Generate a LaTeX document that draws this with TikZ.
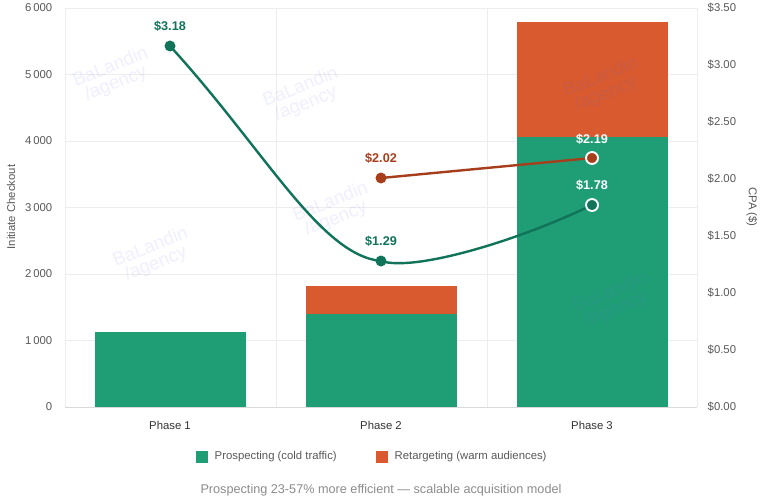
\documentclass[tikz,border=0pt]{standalone}
\usepackage{fontspec}
\setmainfont{Liberation Sans}
\begin{document}
\begin{tikzpicture}[x=0.75pt,y=-0.75pt,
  grid/.style={draw=black!7,line width=0.6pt},
  tick/.style={font=\fontsize{8.5}{10}\selectfont,text=black!65},
  gbar/.style={fill=green1,draw=none},
  obar/.style={fill=orange1,draw=none},
  wm/.style={text=blue!60!white,font=\fontsize{14}{13}\selectfont,rotate=22,opacity=0.1,inner sep=0pt},
  lbl/.style={font=\bfseries\fontsize{9.5}{11}\selectfont}]
\definecolor{green1}{HTML}{1F9E75}
\definecolor{orange1}{HTML}{D85A2E}
\definecolor{gline}{HTML}{10735A}
\definecolor{oline}{HTML}{A63E1C}
\useasboundingbox (0,0) rectangle (763,499);
\fill[white] (0,0) rectangle (763,499);
% grid
\foreach \v [count=\i] in {0,1000,2000,3000,4000,5000,6000}{
  \pgfmathsetmacro\yy{407-\v*0.0665}
  \draw[grid] (65,\yy) -- (697,\yy);
  \node[tick,anchor=east] (l\i) at (57,\yy) {\ifnum\v=0 0\else\pgfmathparse{int(\v/1000)}\pgfmathresult\,000\fi};
}
\foreach \t [count=\i] in {0.00,0.50,1.00,1.50,2.00,2.50,3.00,3.50}{
  \pgfmathsetmacro\yy{407-(\i-1)*57}
  \node[tick,anchor=west] (r\i) at (703,\yy) {\$\t};
}
\foreach \x in {65,276,487,697} \draw[grid] (\x,8) -- (\x,407);
% bars
\fill[gbar] (95,332) rectangle (246,407);
\fill[gbar] (306,314) rectangle (457,407);
\fill[obar] (306,286) rectangle (457,314);
\fill[gbar] (517,137) rectangle (668,407);
\fill[obar] (517,22) rectangle (668,137);
\draw[black!15] (65,407) -- (697,407);
% watermarks
\foreach \x/\y in {110/75,300/95,150/255,330/210,600/85,610/300}{
  \node[wm] (wa\x\y) at (\x,\y-9) {BaLandin};
  \node[wm] (wb\x\y) at (\x+6,\y+9) {/agency};
}
% categories
\node[tick,text=black!80] (c1) at (170,425) {Phase 1};
\node[tick,text=black!80] (c2) at (381,425) {Phase 2};
\node[tick,text=black!80] (c3) at (592,425) {Phase 3};
% axis titles
\node[tick,rotate=90] (yl) at (11,207) {Initiate Checkout};
\node[tick,rotate=-90] (yr) at (752,207) {CPA (\$)};
% lines
\coordinate (g1) at (170,46); \coordinate (g2) at (381,261); \coordinate (g3) at (592,205);
\coordinate (o2) at (381,178); \coordinate (o3) at (592,158);
\draw[gline,line width=1.8pt] (g1) .. controls (265,150) and (320,255) .. (g2) .. controls (415,272) and (520,240) .. (g3);
\draw[oline,line width=1.8pt] (o2) -- (o3);
\fill[gline] (g1) circle (5.5); \fill[gline] (g2) circle (5.5);
\draw[white,fill=gline,line width=1.4pt] (g3) circle (6);
\fill[oline] (o2) circle (5.5);
\draw[white,fill=oline,line width=1.4pt] (o3) circle (6);
\node[lbl,text=gline] (t1) at (170,26) {\$3.18};
\node[lbl,text=gline] (t2) at (381,241) {\$1.29};
\node[lbl,text=white] (t3) at (592,185) {\$1.78};
\node[lbl,text=oline] (t4) at (381,158) {\$2.02};
\node[lbl,text=white] (t5) at (592,139) {\$2.19};
% legend
\fill[green1] (196,451) rectangle (208,463);
\node[tick,anchor=west] (lg1) at (210,457) {Prospecting (cold traffic)};
\fill[orange1] (376,451) rectangle (388,463);
\node[tick,anchor=west] (lg2) at (390,457) {Retargeting (warm audiences)};
\node[tick,text=black!45,font=\fontsize{9.5}{11}\selectfont] (cap) at (381,490) {Prospecting 23-57\% more efficient — scalable acquisition model};
\end{tikzpicture}
\end{document}
